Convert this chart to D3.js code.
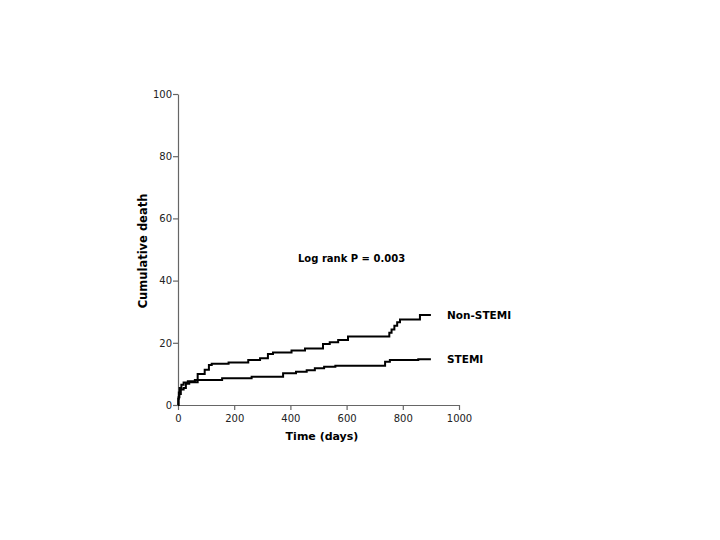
<!DOCTYPE html>
<html>
<head>
<meta charset="utf-8">
<script src="https://cdn.jsdelivr.net/npm/d3@7"></script>
<style>
body { margin: 0; background: #fff; }
svg text { font-family: "DejaVu Sans", Verdana, sans-serif; }
</style>
</head>
<body>
<div id="chart"></div>
<script>
// step points [day, cumulative death %]
var nonStemiDays = [0, 2, 5, 10, 20, 28, 40, 70, 95, 110, 120, 180, 250, 292, 320, 338, 404, 452, 516, 540, 570, 605, 752, 760, 770, 780, 790, 861, 900];
var nonStemiVals = [0, 2.5, 3.5, 5, 5.5, 6.8, 7.3, 10, 11.3, 12.9, 13.3, 13.7, 14.5, 15.0, 16.4, 16.9, 17.5, 18.2, 19.6, 20.2, 20.9, 22.0, 23.2, 24.3, 25.5, 26.6, 27.5, 28.9, 28.9];
var stemiDays = [0, 1, 3, 6, 12, 20, 35, 60, 157, 262, 374, 420, 458, 487, 520, 560, 737, 754, 855, 900];
var stemiVals = [0, 2, 4, 5.5, 6.5, 7.2, 7.6, 8.0, 8.6, 9.1, 10.2, 10.7, 11.2, 11.8, 12.3, 12.6, 13.9, 14.5, 14.7, 14.7];
var seriesNames = ["Non-STEMI", "STEMI"];
var xTicks = [0, 200, 400, 600, 800, 1000];
var yTicks = [0, 20, 40, 60, 80, 100];

var width = 720, height = 540;
var svg = d3.select("#chart").append("svg")
    .attr("width", width)
    .attr("height", height);

var x = d3.scaleLinear().domain([0, 1000]).range([178, 459]);
var y = d3.scaleLinear().domain([0, 100]).range([405, 94]);

var xAxis = d3.axisBottom(x).tickValues(xTicks).tickFormat(d3.format("d")).tickSize(5).tickSizeOuter(0);
var yAxis = d3.axisLeft(y).tickValues(yTicks).tickFormat(d3.format("d")).tickSize(5).tickSizeOuter(0);

var gx = svg.append("g")
    .attr("transform", "translate(0," + y(0) + ")")
    .call(xAxis);
var gy = svg.append("g")
    .attr("transform", "translate(" + x(0) + ",0)")
    .call(yAxis);

[gx, gy].forEach(function(g){
    g.selectAll("path, line").attr("stroke", "#666").attr("stroke-width", 1.2);
    g.selectAll("text").attr("fill", "#222").style("font-size", "10px");
});
gx.selectAll("text").attr("dy", "0.9em");
gy.selectAll("text").attr("x", -6);

svg.append("text")
    .attr("x", 322)
    .attr("y", 440)
    .attr("text-anchor", "middle")
    .style("font-size", "11px")
    .style("font-weight", "bold")
    .text("Time (days)");

svg.append("text")
    .attr("transform", "translate(147," + 251 + ") rotate(-90)")
    .attr("text-anchor", "middle")
    .style("font-size", "11.5px")
    .style("font-weight", "bold")
    .text("Cumulative death");

var line = d3.line()
    .x(function(d){ return x(d[0]); })
    .y(function(d){ return y(d[1]); })
    .curve(d3.curveStepAfter);

var series = [
    d3.zip(nonStemiDays, nonStemiVals),
    d3.zip(stemiDays, stemiVals)
];

svg.selectAll(".km")
    .data(series)
    .enter()
    .append("path")
    .attr("class", "km")
    .attr("d", line)
    .attr("fill", "none")
    .attr("stroke", "#000")
    .attr("stroke-width", 2);

svg.selectAll(".lbl")
    .data(series)
    .enter()
    .append("text")
    .attr("class", "lbl")
    .attr("x", 447)
    .attr("y", function(d){ return y(d[d.length-1][1]) + 4; })
    .style("font-size", "10.5px")
    .style("font-weight", "bold")
    .text(function(d, i){ return seriesNames[i]; });

svg.append("text")
    .attr("x", 298)
    .attr("y", 262)
    .style("font-size", "10px")
    .style("font-weight", "bold")
    .text("Log rank P = 0.003");
</script>
</body>
</html>
